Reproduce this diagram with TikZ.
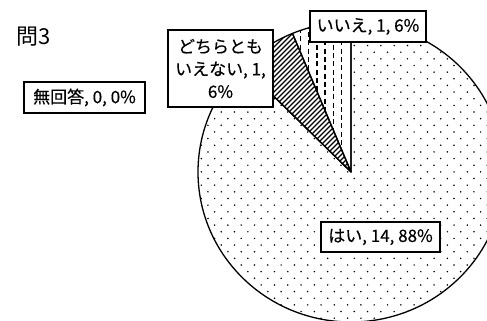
\documentclass[tikz,border=0pt]{standalone}
\usepackage{fontspec}
\newfontfamily\jp{Noto Sans CJK JP}
\newfontfamily\jpb[FakeBold=0.4]{Noto Sans CJK JP}
\begin{document}
\begin{tikzpicture}[x=1pt,y=1pt,
  lbl/.style={draw=black, line width=1.2pt, fill=white, inner sep=0pt, align=center,
    font=\jpb\fontsize{17}{22.5}\selectfont},
  edge/.style={draw=black, line width=1.3pt, line join=round},
  dotfill/.style={fill=black}]
\useasboundingbox (0,0) rectangle (487,321);
\clip (0,0) rectangle (487,321);
\coordinate (C) at (351,149);
% dotted slice (はい)
\begin{scope}
  \clip (C) -- ++(135:153 and 150) arc[start angle=135,end angle=450,x radius=153,y radius=150] -- cycle;
  \foreach \j in {0,...,50} {
    \foreach \i in {0,...,23} {
      \fill[dotfill] ({188+\i*13.3+mod(\j,2)*6.65},{322-\j*6.65}) circle (0.85);
    }
  }
\end{scope}
% hatched slice (どちらとも)
\begin{scope}
  \clip (C) -- ++(112.5:153 and 150) arc[start angle=112.5,end angle=135,x radius=153,y radius=150] -- cycle;
  \foreach \c in {-220,-215,...,80} {
    \draw[line width=1.1pt] (200,{200+\c}) -- (400,{400+\c});
  }
\end{scope}
% vertical dashed slice (いいえ)
\begin{scope}
  \clip (C) -- ++(90:153 and 150) arc[start angle=90,end angle=112.5,x radius=153,y radius=150] -- cycle;
  \foreach \k in {0,...,9} {
    \draw[line width=1.4pt, dash pattern=on 5pt off 3.3pt, dash phase={mod(\k,2)*4.15pt}]
      ({341.7-\k*8.3},322) -- ({341.7-\k*8.3},140);
  }
\end{scope}
% slice outlines
\draw[edge] (C) -- ++(135:153 and 150) arc[start angle=135,end angle=450,x radius=153,y radius=150] -- cycle;
\draw[edge] (C) -- ++(112.5:153 and 150) arc[start angle=112.5,end angle=135,x radius=153,y radius=150] -- cycle;
\draw[edge] (C) -- ++(90:153 and 150) arc[start angle=90,end angle=112.5,x radius=153,y radius=150] -- cycle;
% labels
\node[font=\jp\fontsize{22}{24}\selectfont, anchor=center] (title) at (34,284) {問3};
\node[lbl, minimum width=121pt, minimum height=31pt] (mukaito) at (84.5,223.5) {無回答, 0, 0\%};
\node[lbl, minimum width=105pt, minimum height=77pt] (dochira) at (220.5,252.5) {どちらとも\\いえない, 1,\\6\%};
\node[lbl, minimum width=116pt, minimum height=31pt] (iie) at (368,294.5) {いいえ, 1, 6\%};
\node[lbl, minimum width=119pt, minimum height=30pt] (hai) at (380.5,84) {はい, 14, 88\%};
\end{tikzpicture}
\end{document}
